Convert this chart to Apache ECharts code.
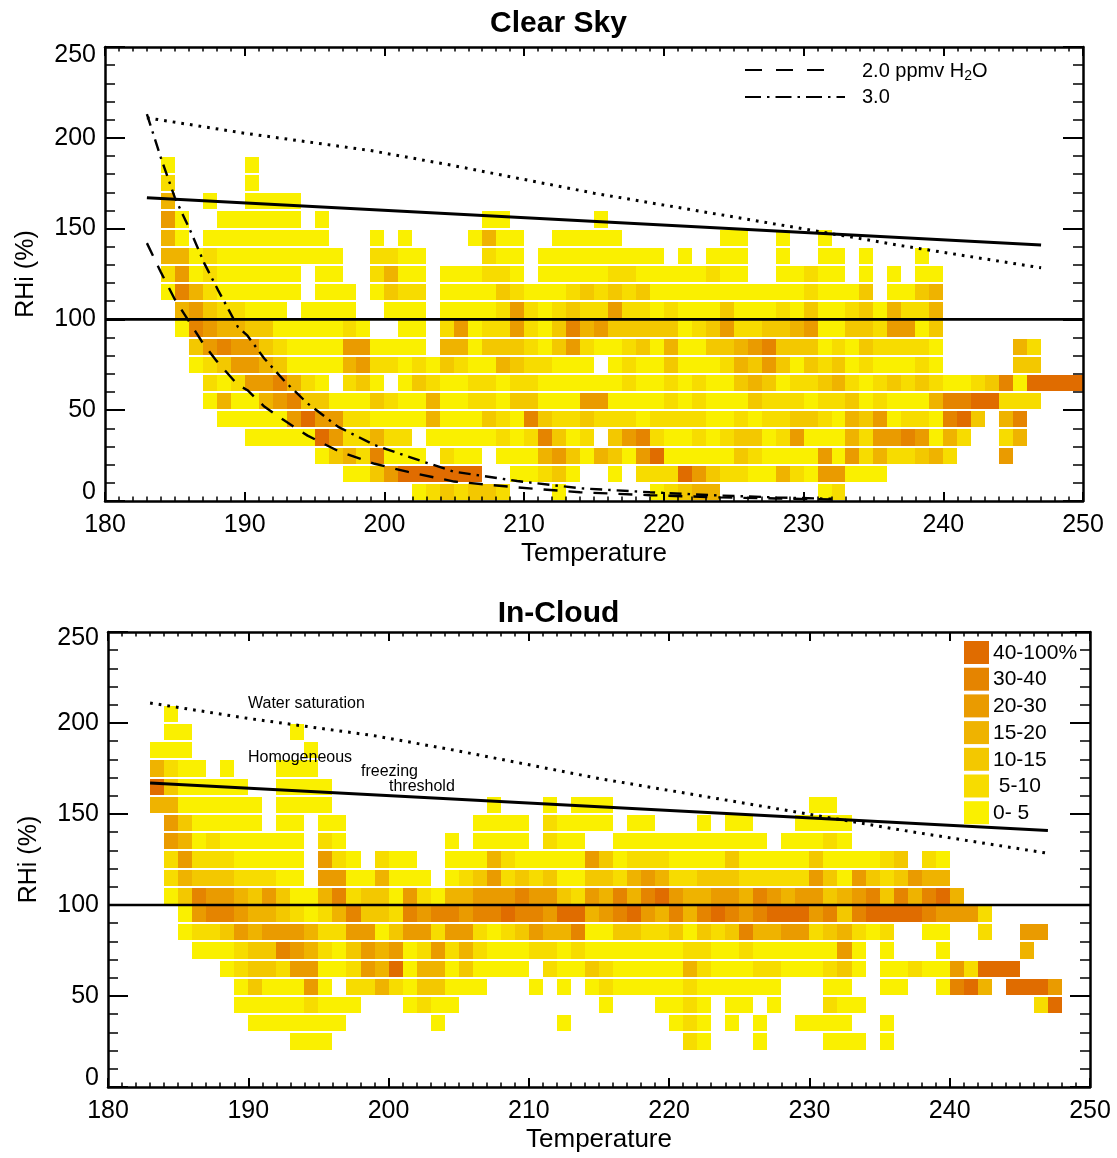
<!DOCTYPE html>
<html><head><meta charset="utf-8">
<script src="https://cdn.jsdelivr.net/npm/echarts/dist/echarts.min.js"></script>
<style>html,body{margin:0;padding:0;background:#fff}#c{width:1117px;height:1158px}</style>
</head><body><div id="c"></div>
<script>
// ---------------- DATA ----------------
// frequency class colours (level 0 = 0-5 %, ... level 6 = 40-100 %)
const levelColors = ['#FAF000', '#F7DC00', '#F3C800', '#EFB300', '#EA9B00', '#E58400', '#E06C00'];
const levelLabels = ['0- 5', ' 5-10', '10-15', '15-20', '20-30', '30-40', '40-100%'];

// RHi bins (lower edge, 10 % wide); each row lists "T:level" or "T1-T2:level" (1 K wide temperature bins)
const clearSkyRHi = [180, 170, 160, 150, 140, 130, 120, 110, 100, 90, 80, 70, 60, 50, 40, 30, 20, 10, 0];
const clearSkyRows = [
  "184:0 190:0",
  "184:1 190:0",
  "184:3 187:0 190-193:0",
  "184:4 185:0 188-193:0 195:0 207-208:0 215:0",
  "184:3 185:0 187-195:0 199:0 201:0 206:0 207:3 208-209:0 212-216:0 224-225:0 228:0 231:0",
  "184-185:3 186:0 187:1 188-196:0 199-200:1 201-202:0 207:1 208-209:0 211-219:0 221:0 223-225:0 228:0 231-232:0 234:0 238:0",
  "184:1 185:4 186:0 187:1 188-193:0 195-196:0 199:1 200:3 201-202:0 204-206:0 207-208:1 209:0 211-215:0 216-217:1 218-222:0 223:1 224-225:0 228-229:0 230:1 231-232:0 234:0 236:0 238-239:0",
  "184:0 185:5 186:3 187:1 188-193:0 195-197:0 199:0 200:2 201-202:1 204-207:0 208:2 209:1 210-212:0 213:1 214:2 215:1 216:2 217:1 218:2 219-229:0 230:1 231-233:0 234:2 236-237:0 238:2 239:3",
  "185:3 186:4 187:2 188-189:1 190-192:0 194-197:0 200-202:0 204-207:0 208:1 209:4 210:1 211:0 212:1 213:2 214-215:1 216:4 217-218:1 219:0 220:1 221-223:0 224:2 225-227:0 228:1 229:0 230:2 231-232:0 233:1 234:2 235:0 236:3 237-238:1 239:3",
  "185:0 186:5 187:4 188-189:3 190-191:2 192-196:0 197:1 198:0 201-202:0 204:1 205:4 206:0 207-208:1 209:4 210:1 211:0 212:2 213:5 214:3 215:4 216-220:2 221:0 222:1 223:2 224:4 225-226:1 227-228:2 229:3 230:4 231-232:0 233-234:2 235:1 236-237:4 238:0 239:2",
  "186:2 187:4 188:5 189-190:4 191:2 192:1 193-196:0 197-198:4 199-202:0 204-205:3 206:0 207-209:2 210:1 211:0 212:2 213:4 214:1 215-216:0 217:1 218:2 219:0 220:3 221-222:0 223-224:2 225:3 226:4 227:5 228-230:2 231:0 232:1 233:0 234:2 235-238:1 239:0 245:3 246:1",
  "186:0 187:1 188:2 189-190:4 191:3 192:2 193-196:0 197:3 198:4 199-200:1 201:0 202:1 203:0 204:2 205:1 206-207:0 208:3 209:2 210-211:1 212-214:0 216:0 217:1 218-219:0 220:2 221-223:0 224:1 225:3 226:2 227:4 228:2 229:0 230:2 231:1 232:2 233:0 234:1 235-237:0 238:1 239:0 245-246:2",
  "187:1 188:0 189:1 190-191:4 192:5 193:3 194:1 195:0 197:1 198:2 199:0 201:0 202:2 203:1 204-205:0 206-207:1 208:0 209-210:1 211-216:0 217:1 218-219:0 220:1 221:0 222:1 223-224:0 225:2 226:3 227:2 228:0 229-230:1 231:2 232:3 233:1 234:0 235:1 236:2 237:1 238:2 239:1 240-241:0 242:1 243:2 244:5 245:0 246-249:6",
  "187:0 188:3 189-190:0 191:3 192:4 193:5 194-195:2 196-198:0 199:2 200:1 201-202:0 203:3 204-205:0 206-207:1 208:0 209-210:2 211-213:0 214-215:4 216-219:0 220:1 221:0 222:1 223-225:0 226:2 227-229:1 230:0 231-232:1 233:2 234:0 235:1 236-238:0 239:3 240-241:5 242-243:6 244-246:1",
  "188-192:0 193:4 194:6 195-196:4 197-198:1 199-202:0 203:3 204-206:0 207:2 208:1 209:0 210:5 211:2 212-213:1 214:2 215-217:1 218:0 219-222:1 223-224:0 225:1 226:0 227-228:1 229-230:2 231:1 232:0 233:3 234:2 235:4 236:0 237-238:1 239:0 240:5 241:6 242:2 244:3 245:5",
  "190-194:0 195:6 196:4 197-198:1 199:3 200-201:1 203-207:0 208:1 209:0 210:1 211:5 212:2 213:0 214:1 216:2 217:4 218:5 219:1 220-221:0 222:1 223:0 224:1 225-226:2 227:0 228:1 229:4 230-232:0 233:3 234:1 235-236:4 237:5 238:4 239:0 240:3 241:1 244:1 245:3",
  "195:0 196:2 197:3 198:1 199:5 200-202:0 204:1 205-206:0 208-210:0 211:3 212:4 213:2 214:0 215:3 216:2 217:0 218:4 219:6 220-224:0 225:2 226:1 227-230:0 231:4 232:0 233:4 234:1 235:3 236-237:1 238:2 239:3 240:1 244:4",
  "197-198:0 199:2 200:4 201-206:6 209-210:0 211:1 212:2 213:0 216:0 218-220:1 221:6 222:4 223:2 224-225:1 226-227:0 228:3 229:1 230:0 231-232:4 233-235:0",
  "202:0 203:1 204:2 205:1 206-207:2 208:1 212:0 219:0 220:1 221:2 222-223:3 231:0 232:1"
];

const inCloudRHi = [200, 190, 180, 170, 160, 150, 140, 130, 120, 110, 100, 90, 80, 70, 60, 50, 40, 30, 20];
const inCloudRows = [
  "184:0",
  "184-185:0 193:0",
  "183-185:0 194:0",
  "183:3 184:1 185-186:0 188:0 192-194:0",
  "183:6 184:2 185-189:0 192-195:0",
  "183-184:3 185-190:0 192-195:0 207:0 211:0 213-215:0 230-231:0",
  "184:4 185:2 186-190:0 192-193:0 195-196:0 206-209:0 211:1 212-215:0 217-218:0 222:0 224-225:0 229-232:0",
  "184:4 185:3 186:0 187:1 188-193:0 195:1 196:0 204:0 206-209:0 211:1 212-213:0 216-226:0 228-230:0 231:1 232:0",
  "184:1 185:4 186-188:1 189-193:0 195:4 196:1 197:0 199:1 200-201:0 204-206:0 207:3 208:1 209-213:0 214:4 215:2 216:0 217-219:1 220-223:0 224:2 225-229:0 230:2 231-234:0 235:1 236:2 238:1 239:0",
  "184:1 185:3 186-188:2 189-191:1 192-193:0 195-196:4 197-198:0 199:3 200-202:0 204:0 205:1 206:2 207:4 208:1 209:2 210:1 211:2 212-213:0 214-215:2 216:1 217:3 218:4 219:3 220-221:1 222-224:2 225-229:1 230:4 231:2 232:0 233:4 234:2 235:1 236:2 237:4 238-239:3",
  "184:0 185:2 186:5 187-188:4 189:3 190:2 191:4 192:2 193-194:0 195:3 196:5 197:1 198-199:2 200:0 201:4 202:1 203:0 204-205:3 206-208:4 209:5 210-211:4 212:2 213:1 214:4 215:3 216:5 217:3 218:5 219:6 220:4 221-222:3 223-224:4 225:3 226:5 227:4 228:3 229-230:4 231:2 232:3 233:4 234:5 235:2 236:5 237:3 238:5 239:6 240:3",
  "185:0 186:4 187-188:5 189:4 190-191:3 192:2 193:1 194:0 195:1 196:3 197:5 198-199:2 200:1 201:5 202:4 203-204:5 205:4 206-207:5 208:6 209-210:5 211:4 212-213:6 214:3 215:4 216:5 217:6 218:4 219:3 220:5 221:3 222:5 223:6 224:5 225:4 226:5 227-229:6 230:4 231:5 232:2 233:5 234-237:6 238:5 239-241:4 242:1",
  "185:0 186-187:1 188:2 189:4 190:3 191-193:4 194:3 195-196:1 197-198:4 199:0 200:2 201-202:4 203:1 204-205:4 206:1 207:0 208:1 209:2 210:4 211-212:3 213:5 214-215:0 216-217:2 218-219:1 220:2 221:0 222:2 223:1 224:2 225:5 226-227:3 228-229:4 230:1 231:2 232:3 233:1 234:0 235:1 238-239:0 242:1 245-246:4",
  "186-188:0 189:1 190-191:2 192:5 193:4 194:3 195:1 196:0 197:2 198:4 199:3 200:4 201:0 202:1 203:4 204:1 205:3 206:1 207-209:0 210-211:1 212:0 213:1 214-220:0 221-222:1 223-224:0 225:1 226-231:0 232:4 233:0 235:0 239:0 245:3",
  "188:0 189:1 190-191:2 192:1 193-194:4 195-196:0 197:1 198:4 199:3 200:6 201:0 202-203:3 204:0 205:2 206-209:0 211:1 212-213:0 214:2 215:1 216-220:0 221:3 222:1 223-225:0 226-227:1 228-230:0 231:1 232:2 233:0 235-236:0 237:1 238-239:0 240:4 241:1 242-244:6",
  "189:0 190:2 191-193:0 194:4 195:0 197-198:1 199:3 200:1 201:0 202-203:2 204-206:0 210:0 212:0 214:0 215:1 216-220:0 221:1 222-227:0 231-232:0 235-236:0 239:0 240:5 241:6 242:3 244-246:6 247:4",
  "189-193:0 194:1 195-197:0 201:0 202:1 203-204:0 215:0 219-220:0 221:1 222:0 224-225:0 227:0 231:1 232-233:0 246:1 247:6",
  "190-196:0 203:0 212:0 220:0 221:1 222:0 224:0 226:0 229-232:0 235:0",
  "193-195:0 221:1 222:0 226:0 231-233:0 235:0"
];

// reference lines
const thresholdT = [183, 247];
const thresholdRHi = [167, 141];
const waterSatT = [183, 190, 199, 205, 215, 227, 237, 247];
const waterSatRHi = [211, 202.5, 193, 184.6, 169.5, 153.8, 140.6, 128.4];
const ppmv2T = [183, 184, 185, 186, 187, 188, 189.5, 190.2, 191.4, 192.9, 194.5, 196.7, 199.3, 201.7, 205, 209.5, 214, 219, 224, 228, 232];
const ppmv2RHi = [142, 126, 111, 99, 87, 77, 64, 61, 52, 44, 36, 27.5, 20.5, 16, 10.7, 7.5, 4.8, 3.2, 2, 1.4, 0.8];
const ppmv3T = [183, 184, 185, 186.1, 187.1, 188.1, 189.5, 190.2, 191.4, 192.9, 194.5, 196.7, 199.3, 201.7, 205, 209.5, 214, 219, 224, 228, 232];
const ppmv3RHi = [213, 189, 167, 149, 131, 116, 96, 91, 78.5, 65.6, 53.7, 40.8, 30.8, 24.4, 16.1, 11, 7, 4.8, 3, 2, 1.2];
const saturationLevel = 100;

const xTicks = [180, 190, 200, 210, 220, 230, 240, 250];
const yTicks = [0, 50, 100, 150, 200, 250];

// ---------------- BUILD ----------------
function parseRows(rhis, rows) {
  const cells = [];
  rows.forEach((s, k) => {
    s.trim().split(/\s+/).forEach(tok => {
      if (!tok) return;
      const parts = tok.split(':');
      const rng = parts[0].split('-').map(Number);
      const a = rng[0], b = rng.length > 1 ? rng[1] : rng[0];
      for (let t = a; t <= b; t++) cells.push([t, rhis[k], +parts[1]]);
    });
  });
  return cells;
}
const FONT = '"Liberation Sans", Arial, Helvetica, sans-serif';
const zip = (a, b) => a.map((v, i) => [v, b[i]]);

function xAxes(gi) {
  const base = {
    type: 'value', gridIndex: gi, min: xTicks[0], max: xTicks[xTicks.length - 1], interval: 10, z: 10,
    axisLine: { show: true, onZero: false, lineStyle: { color: '#000', width: 2.5 } },
    axisTick: { show: true, inside: true, length: 9, lineStyle: { color: '#000', width: 2 } },
    minorTick: { show: true, splitNumber: 10, length: 4.5, lineStyle: { color: '#000', width: 1.5 } },
    splitLine: { show: false }, minorSplitLine: { show: false }
  };
  return [
    Object.assign({}, base, {
      position: 'bottom', name: 'Temperature', nameLocation: 'middle', nameGap: 40,
      nameTextStyle: { fontSize: 26, color: '#000', fontFamily: FONT },
      axisLabel: { show: true, fontSize: 25, color: '#000', fontFamily: FONT, margin: 12 }
    }),
    Object.assign({}, base, { position: 'top', axisLabel: { show: false } })
  ];
}
function yAxes(gi, loPad, hiPad) {
  const base = {
    type: 'value', gridIndex: gi, min: 0, max: 250, interval: 50, z: 10,
    axisLine: { show: true, onZero: false, lineStyle: { color: '#000', width: 2.5 } },
    axisTick: { show: true, inside: true, length: 20, lineStyle: { color: '#000', width: 2 } },
    minorTick: { show: true, splitNumber: 5, length: 10, lineStyle: { color: '#000', width: 1.5 } },
    splitLine: { show: false }, minorSplitLine: { show: false }
  };
  const rs = { fontSize: 25, color: '#000', fontFamily: FONT };
  return [
    Object.assign({}, base, {
      position: 'left', name: 'RHi (%)', nameLocation: 'middle', nameGap: 66, nameRotate: 90,
      nameTextStyle: { fontSize: 25, color: '#000', fontFamily: FONT },
      axisLabel: {
        show: true, fontSize: 25, color: '#000', fontFamily: FONT, margin: 9,
        formatter: v => v === 0 ? '{lo|0}' : (v === 250 ? '{hi|250}' : String(v)),
        rich: {
          lo: Object.assign({ padding: [0, 0, loPad, 0] }, rs),
          hi: Object.assign({ padding: [hiPad, 0, 0, 0] }, rs)
        }
      }
    }),
    Object.assign({}, base, { position: 'right', axisLabel: { show: false } })
  ];
}

function heatSeries(cells, xi, yi) {
  return {
    type: 'custom', xAxisIndex: xi, yAxisIndex: yi, data: cells, silent: true, z: 2,
    encode: { x: 0, y: 1 },
    renderItem: (params, api) => {
      const t = api.value(0), r = api.value(1), lv = api.value(2);
      const p0 = api.coord([t, r + 10]);
      const p1 = api.coord([t + 1, r]);
      const x0 = Math.round(p0[0]), x1 = Math.round(p1[0]);
      const y0 = Math.round(p0[1]), y1 = Math.round(p1[1]);
      return { type: 'rect', shape: { x: x0, y: y0 + 1, width: x1 - x0, height: y1 - y0 - 2 },
               style: { fill: levelColors[lv] } };
    }
  };
}
function lineSeries(pts, xi, yi, width, dash) {
  return {
    type: 'line', xAxisIndex: xi, yAxisIndex: yi, data: pts, showSymbol: false, symbol: 'none',
    silent: true, z: 5, smooth: false, clip: true,
    lineStyle: { color: '#000', width: width, type: dash || 'solid', cap: 'butt' }
  };
}

const dottedDash = [2.7, 6];
const dashedDash = [14, 11];
const dashDotDash = [12, 6, 2.5, 6];

const series = [
  heatSeries(parseRows(clearSkyRHi, clearSkyRows), 0, 0),
  lineSeries([[xTicks[0], saturationLevel], [xTicks[xTicks.length - 1], saturationLevel]], 0, 0, 2.6),
  lineSeries(zip(thresholdT, thresholdRHi), 0, 0, 3),
  lineSeries(zip(waterSatT, waterSatRHi), 0, 0, 3, dottedDash),
  lineSeries(zip(ppmv2T, ppmv2RHi), 0, 0, 2.4, dashedDash),
  lineSeries(zip(ppmv3T, ppmv3RHi), 0, 0, 2.4, dashDotDash),
  heatSeries(parseRows(inCloudRHi, inCloudRows), 2, 2),
  lineSeries([[xTicks[0], saturationLevel], [xTicks[xTicks.length - 1], saturationLevel]], 2, 2, 2.6),
  lineSeries(zip(thresholdT, thresholdRHi), 2, 2, 3),
  lineSeries(zip(waterSatT, waterSatRHi), 2, 2, 3, dottedDash)
];

const graphic = [
  { type: 'line', z: 100, shape: { x1: 745, y1: 70, x2: 832, y2: 70 }, style: { stroke: '#000', lineWidth: 2, lineDash: [17, 14] } },
  { type: 'line', z: 100, shape: { x1: 745, y1: 97, x2: 845, y2: 97 }, style: { stroke: '#000', lineWidth: 2, lineDash: [16, 6, 2.5, 6] } },
  { type: 'text', z: 100, x: 862, y: 71, style: { text: '2.0 ppmv H{sub|2}O', fontSize: 20, fontFamily: FONT, fill: '#000', verticalAlign: 'middle',
      rich: { sub: { fontSize: 14, fontFamily: FONT, fill: '#000', padding: [10, 0, 0, 0] } } } },
  { type: 'text', z: 100, x: 862, y: 97, style: { text: '3.0', fontSize: 20, fontFamily: FONT, fill: '#000', verticalAlign: 'middle' } },
  { type: 'text', z: 100, x: 248, y: 704, style: { text: 'Water saturation', fontSize: 16, fontFamily: FONT, fill: '#000', verticalAlign: 'middle' } },
  { type: 'text', z: 100, x: 248, y: 758, style: { text: 'Homogeneous', fontSize: 16, fontFamily: FONT, fill: '#000', verticalAlign: 'middle' } },
  { type: 'text', z: 100, x: 361, y: 772, style: { text: 'freezing', fontSize: 16, fontFamily: FONT, fill: '#000', verticalAlign: 'middle' } },
  { type: 'text', z: 100, x: 389, y: 787, style: { text: 'threshold', fontSize: 16, fontFamily: FONT, fill: '#000', verticalAlign: 'middle' } }
];
for (let k = 0; k < levelColors.length; k++) {
  const lv = levelColors.length - 1 - k;
  const y = 641 + k * 26.7;
  graphic.push({ type: 'rect', shape: { x: 964, y: y, width: 25, height: 23 }, style: { fill: levelColors[lv] }, z: 100 });
  graphic.push({ type: 'text', x: 993, y: y + 12, z: 100,
    style: { text: levelLabels[lv], fontSize: 21, fontFamily: FONT, fill: '#000', verticalAlign: 'middle' } });
}

const chart = echarts.init(document.getElementById('c'), null, { renderer: 'canvas' });
chart.setOption({
  animation: false,
  backgroundColor: '#fff',
  title: [
    { text: 'Clear Sky', left: 'center', top: 4, textStyle: { fontSize: 30, fontWeight: 'bold', color: '#000', fontFamily: FONT } },
    { text: 'In-Cloud', left: 'center', top: 594, textStyle: { fontSize: 30, fontWeight: 'bold', color: '#000', fontFamily: FONT } }
  ],
  grid: [
    { left: 105, top: 47, width: 978, height: 454 },
    { left: 108, top: 632, width: 982, height: 455 }
  ],
  xAxis: xAxes(0).concat(xAxes(1)),
  yAxis: yAxes(0, 18, 16).concat(yAxes(1, 18, 12)),
  series: series,
  graphic: graphic
});
</script></body></html>
